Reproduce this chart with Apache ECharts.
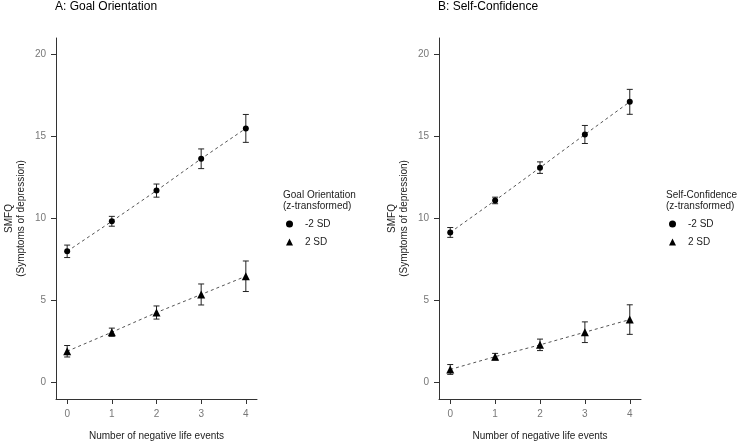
<!DOCTYPE html>
<html>
<head>
<meta charset="utf-8">
<script src="https://cdn.jsdelivr.net/npm/echarts@6/dist/echarts.min.js"></script>
<style>html,body{margin:0;padding:0;background:#fff}#c{width:740px;height:441px}</style>
</head>
<body>
<div id="c"></div>
<script>
const xTicks = [0, 1, 2, 3, 4];
const yTicks = [0, 5, 10, 15, 20];
const events = [0, 1, 2, 3, 4];
const legendNames = ['-2 SD', '2 SD'];
// Panel A: Goal Orientation
const goalLow = [8.0, 9.83, 11.7, 13.64, 15.49];
const goalLowErr = [0.38, 0.3, 0.4, 0.6, 0.85];
const goalHigh = [1.91, 3.07, 4.27, 5.37, 6.48];
const goalHighErr = [0.35, 0.25, 0.4, 0.64, 0.93];
// Panel B: Self-Confidence
const confLow = [9.15, 11.1, 13.1, 15.12, 17.11];
const confLowErr = [0.3, 0.2, 0.35, 0.55, 0.76];
const confHigh = [0.8, 1.58, 2.3, 3.07, 3.84];
const confHighErr = [0.3, 0.2, 0.35, 0.63, 0.9];

const FONT = 'Liberation Sans, Arial, sans-serif';
const chart = echarts.init(document.getElementById('c'));

function pts(vals) { return events.map((x, i) => [x, vals[i]]); }
function errs(vals, e) { return events.map((x, i) => [x, vals[i] - e[i], vals[i] + e[i]]); }

function errSeries(idx, vals, e) {
  return {
    type: 'custom', xAxisIndex: idx, yAxisIndex: idx, z: 1, silent: true,
    data: errs(vals, e),
    encode: { x: 0, y: [1, 2] },
    renderItem: function (params, api) {
      const lo = api.coord([api.value(0), api.value(1)]);
      const hi = api.coord([api.value(0), api.value(2)]);
      const w = 3;
      const st = { stroke: '#222', lineWidth: 1 };
      return { type: 'group', children: [
        { type: 'line', shape: { x1: lo[0], y1: lo[1], x2: hi[0], y2: hi[1] }, style: st },
        { type: 'line', shape: { x1: lo[0] - w, y1: lo[1], x2: lo[0] + w, y2: lo[1] }, style: st },
        { type: 'line', shape: { x1: hi[0] - w, y1: hi[1], x2: hi[0] + w, y2: hi[1] }, style: st }
      ]};
    }
  };
}
function lineSeries(idx, name, vals, symbol, size) {
  return {
    type: 'line', name: name, xAxisIndex: idx, yAxisIndex: idx, z: 3,
    data: pts(vals), symbol: symbol, symbolSize: size, showSymbol: true,
    itemStyle: { color: '#000' },
    lineStyle: { color: '#555', width: 1, type: [3, 3] },
    emphasis: { disabled: true }, animation: false
  };
}
function xAxis(idx) {
  return {
    type: 'value', gridIndex: idx, min: -0.25, max: 4.25,
    name: 'Number of negative life events', nameLocation: 'middle', nameGap: 32,
    nameTextStyle: { fontFamily: FONT, fontSize: 10, color: '#222' },
    axisLine: { show: true, onZero: false, lineStyle: { color: '#333', width: 1 } },
    axisTick: { show: true, length: 5, customValues: xTicks, lineStyle: { color: '#333' } },
    axisLabel: { customValues: xTicks, margin: 10, fontFamily: FONT, fontSize: 10, color: '#777' },
    splitLine: { show: false }
  };
}
function yAxis(idx) {
  return {
    type: 'value', gridIndex: idx, min: -1, max: 21,
    name: 'SMFQ\n(Symptoms of depression)', nameLocation: 'middle', nameGap: 29,
    nameTextStyle: { fontFamily: FONT, fontSize: 10, color: '#222', lineHeight: 12 },
    axisLine: { show: true, onZero: false, lineStyle: { color: '#333', width: 1 } },
    axisTick: { show: true, length: 5, customValues: yTicks, lineStyle: { color: '#333' } },
    axisLabel: { customValues: yTicks, margin: 10, fontFamily: FONT, fontSize: 10, color: '#777' },
    splitLine: { show: false }
  };
}
function legend(left, names) {
  return {
    left: left, top: 219, orient: 'vertical', itemWidth: 7, itemHeight: 7, itemGap: 8,
    selectedMode: false, padding: 0,
    textStyle: { fontFamily: FONT, fontSize: 10, color: '#222', padding: [0, 0, 0, 7] },
    data: [{ name: names[0], icon: 'circle' }, { name: names[1], icon: 'triangle' }]
  };
}

chart.setOption({
  animation: false,
  backgroundColor: '#fff',
  title: [
    { text: 'A: Goal Orientation', left: 55, top: 1, padding: 0,
      textStyle: { fontFamily: FONT, fontSize: 12, fontWeight: 'normal', color: '#000' } },
    { text: 'B: Self-Confidence', left: 438, top: 1, padding: 0,
      textStyle: { fontFamily: FONT, fontSize: 12, fontWeight: 'normal', color: '#000' } },
    { text: 'Goal Orientation\n(z-transformed)', left: 283, top: 189, padding: 0,
      textStyle: { fontFamily: FONT, fontSize: 10, fontWeight: 'normal', color: '#222', lineHeight: 11.5 } },
    { text: 'Self-Confidence\n(z-transformed)', left: 666, top: 189, padding: 0,
      textStyle: { fontFamily: FONT, fontSize: 10, fontWeight: 'normal', color: '#222', lineHeight: 11.5 } }
  ],
  legend: [legend(286, ['-2 SD', '2 SD']), legend(669, ['-2 SD ', '2 SD '])],
  grid: [
    { left: 56, top: 38, width: 201, height: 361, containLabel: false, outerBoundsMode: 'none' },
    { left: 439, top: 38, width: 202, height: 361, containLabel: false, outerBoundsMode: 'none' }
  ],
  xAxis: [xAxis(0), xAxis(1)],
  yAxis: [yAxis(0), yAxis(1)],
  series: [
    errSeries(0, goalLow, goalLowErr),
    errSeries(0, goalHigh, goalHighErr),
    errSeries(1, confLow, confLowErr),
    errSeries(1, confHigh, confHighErr),
    lineSeries(0, legendNames[0], goalLow, 'circle', 6),
    lineSeries(0, legendNames[1], goalHigh, 'triangle', 8),
    lineSeries(1, legendNames[0] + ' ', confLow, 'circle', 6),
    lineSeries(1, legendNames[1] + ' ', confHigh, 'triangle', 8)
  ]
});
</script>
</body>
</html>
